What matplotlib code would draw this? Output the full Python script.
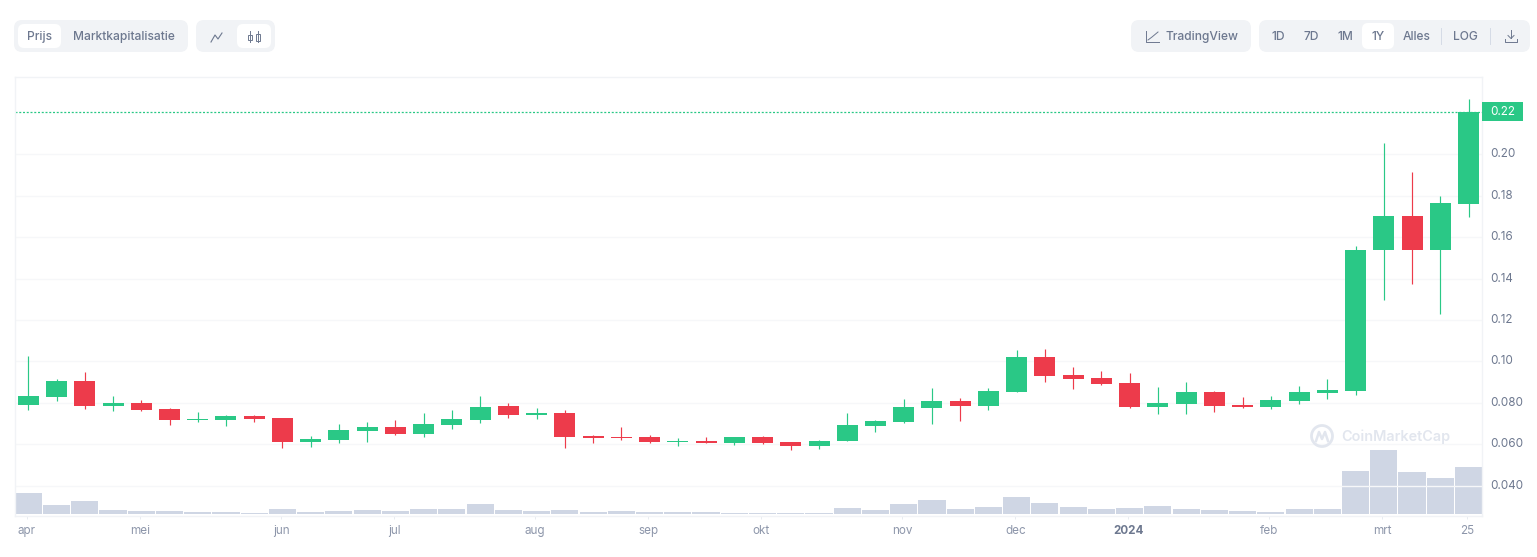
import numpy as np
import matplotlib
matplotlib.use('Agg')
import matplotlib.pyplot as plt
from matplotlib.patches import FancyBboxPatch, Rectangle, Circle
from matplotlib.transforms import ScaledTranslation

plt.rcParams['font.family'] = ['Inter', 'DejaVu Sans']

W, H = 1537, 557

# weekly candles
opens = [0.0789, 0.0828, 0.0905, 0.0784, 0.0799, 0.0770, 0.0717, 0.0717, 0.0736, 0.0726,
         0.0610, 0.0620, 0.0664, 0.0683, 0.0649, 0.0692, 0.0717, 0.0784, 0.0741, 0.0750,
         0.0639, 0.0635, 0.0635, 0.0610, 0.0615, 0.0606, 0.0635, 0.0610, 0.0591, 0.0615,
         0.0688, 0.0707, 0.0775, 0.0808, 0.0784, 0.0852, 0.1021, 0.0934, 0.0920, 0.0895,
         0.0779, 0.0794, 0.0852, 0.0789, 0.0779, 0.0808, 0.0847, 0.0857, 0.1538, 0.1702,
         0.1538, 0.1760]
closes = [0.0833, 0.0905, 0.0784, 0.0799, 0.0765, 0.0717, 0.0721, 0.0736, 0.0721, 0.0610,
          0.0625, 0.0668, 0.0683, 0.0649, 0.0697, 0.0721, 0.0779, 0.0741, 0.0750, 0.0635,
          0.0630, 0.0630, 0.0610, 0.0615, 0.0606, 0.0635, 0.0606, 0.0591, 0.0615, 0.0692,
          0.0712, 0.0779, 0.0808, 0.0784, 0.0857, 0.1021, 0.0929, 0.0915, 0.0891, 0.0779,
          0.0799, 0.0852, 0.0784, 0.0779, 0.0813, 0.0852, 0.0862, 0.1538, 0.1702, 0.1538,
          0.1765, 0.2204]
highs = [0.1026, 0.0915, 0.0948, 0.0833, 0.0813, 0.0775, 0.0755, 0.0741, 0.0741, 0.0726,
         0.0639, 0.0697, 0.0707, 0.0717, 0.0750, 0.0765, 0.0833, 0.0799, 0.0775, 0.0765,
         0.0644, 0.0683, 0.0644, 0.0630, 0.0635, 0.0635, 0.0639, 0.0610, 0.0620, 0.0750,
         0.0717, 0.0818, 0.0871, 0.0823, 0.0871, 0.1055, 0.1060, 0.0973, 0.0953, 0.0944,
         0.0876, 0.0900, 0.0857, 0.0828, 0.0833, 0.0881, 0.0915, 0.1557, 0.2055, 0.1914,
         0.1799, 0.2267]
lows = [0.0765, 0.0808, 0.0770, 0.0760, 0.0760, 0.0692, 0.0707, 0.0688, 0.0707, 0.0581,
        0.0586, 0.0606, 0.0610, 0.0644, 0.0635, 0.0673, 0.0702, 0.0726, 0.0721, 0.0581,
        0.0606, 0.0620, 0.0606, 0.0591, 0.0606, 0.0596, 0.0601, 0.0572, 0.0577, 0.0615,
        0.0659, 0.0702, 0.0697, 0.0712, 0.0765, 0.0852, 0.0900, 0.0866, 0.0886, 0.0775,
        0.0746, 0.0746, 0.0755, 0.0775, 0.0770, 0.0794, 0.0818, 0.0837, 0.1296, 0.1373,
        0.1229, 0.1697]
volumes = [21, 9, 13, 4, 3, 3, 2, 2, 1, 5,
           2, 3, 4, 3, 5, 5, 10, 4, 3, 4,
           2, 3, 2, 2, 2, 1, 1, 1, 1, 6,
           4, 10, 14, 5, 7, 17, 11, 7, 5, 6,
           8, 5, 4, 3, 2, 5, 5, 43, 64, 42,
           36, 47]

x_labels = ['apr', 'mei', 'jun', 'jul', 'aug', 'sep', 'okt', 'nov', 'dec', '2024', 'feb', 'mrt', '25']
x_label_weeks = [0, 4, 9, 13, 18, 22, 26, 31, 35, 39, 44, 48, 51]
y_ticks = [0.04, 0.06, 0.08, 0.10, 0.12, 0.14, 0.16, 0.18, 0.20]
y_tick_labels = ['0.040', '0.060', '0.080', '0.10', '0.12', '0.14', '0.16', '0.18', '0.20']
last_price = 0.2204

GREEN = '#2ac886'
RED = '#ed3b4b'
VOL = '#cfd6e4'
GRID = '#f6f7f9'
FRAME = '#f1f3f6'
TXT = '#6d788f'
AXTXT = '#8d96aa'
MARK = '#e2e6ee'

fig = plt.figure(figsize=(W / 100, H / 100), dpi=100, facecolor='white')

# chart frame in pixels
left, right, top, bottom = 14.5, 1481.5, 76.5, 515.5
rect = [left / W, 1 - bottom / H, (right - left) / W, (bottom - top) / H]

ax = fig.add_axes(rect, zorder=2)
ax.patch.set_alpha(0)
ax.set_xlim(-0.489, 51.46)
ax.set_ylim(0.02551, 0.2376)

vol_ax = fig.add_axes(rect, zorder=1)
vol_ax.set_xlim(ax.get_xlim())
vol_ax.set_ylim(-1.5, 437.5)
vol_ax.axis('off')

weeks = np.arange(len(opens))
vol_ax.bar(weeks, volumes, width=0.96, color=VOL, linewidth=0)

colors = [GREEN if c >= o else RED for o, c in zip(opens, closes)]
ax.vlines(weeks, lows, highs, colors=colors, linewidth=0.85, zorder=3)
ax.bar(weeks, np.abs(np.array(closes) - np.array(opens)), bottom=np.minimum(opens, closes),
       width=0.744, color=colors, linewidth=0, zorder=4)

ax.axhline(last_price, color=GREEN, linewidth=0.9, linestyle=(0, (1.6, 1.4)), zorder=2)

ax.yaxis.tick_right()
ax.set_yticks(y_ticks)
ax.set_yticklabels(y_tick_labels, fontsize=8.4, color=TXT)
ax.tick_params(axis='y', length=0, pad=6.5)
shift = ScaledTranslation(0, 1.5 / 100, fig.dpi_scale_trans)
for lbl in ax.get_yticklabels():
    lbl.set_transform(lbl.get_transform() + shift)
ax.set_xticks(np.array(x_label_weeks) - 0.05)
ax.set_xticklabels(x_labels, fontsize=8.4, color=AXTXT)
ax.get_xticklabels()[9].set_fontweight('bold')
ax.get_xticklabels()[9].set_color(TXT)
ax.tick_params(axis='x', length=2.5, width=0.7, color='#e8ebf0', pad=4.5)
ax.grid(axis='y', color=GRID, linewidth=1)
ax.set_axisbelow(True)
for s in ax.spines.values():
    s.set_color(FRAME)
    s.set_linewidth(1)

# overlay for the toolbar and price tag, in pixels
ui = fig.add_axes([0, 0, 1, 1], zorder=3)
ui.set_xlim(0, W)
ui.set_ylim(H, 0)
ui.axis('off')
ui.patch.set_alpha(0)


def pill(x0, x1, y0, y1, color, r=8):
    ui.add_patch(FancyBboxPatch((x0 + r, y0 + r), x1 - x0 - 2 * r, y1 - y0 - 2 * r,
                                boxstyle='round,pad=%g,rounding_size=%g' % (r, r),
                                fc=color, ec='none'))


def label(x, s, ha='center', size=8.65):
    ui.text(x, 37, s, ha=ha, va='center', fontsize=size, color=TXT, fontweight='medium')


pill(14, 188, 20, 52, FRAME)
pill(18, 61, 24, 48, 'white', 6)
label(39.5, 'Prijs')
label(124, 'Marktkapitalisatie')

pill(196, 275, 20, 52, FRAME)
pill(237, 271, 24, 48, 'white', 6)
ui.plot([211, 215, 218, 222], [42, 35, 39, 33], color=TXT, lw=0.8)
ui.plot([249.5, 249.5], [31, 42], color=TXT, lw=0.7)
ui.plot([258, 258], [31, 42], color=TXT, lw=0.7)
ui.add_patch(Rectangle((248, 35), 3.5, 5, fc='white', ec=TXT, lw=0.7))
ui.add_patch(Rectangle((256, 33.5), 4, 7, fc='white', ec=TXT, lw=0.7))

pill(1131, 1251, 20, 52, FRAME)
ui.plot([1146, 1146, 1159], [31, 42, 42], color=TXT, lw=0.7)
ui.plot([1148, 1152, 1158], [40, 37, 32], color=TXT, lw=0.7)
label(1166, 'TradingView', ha='left')

pill(1259, 1530, 20, 52, FRAME)
pill(1362, 1394, 23, 49, 'white', 6)
for x, s in zip([1278, 1311, 1345, 1378, 1417, 1465], ['1D', '7D', '1M', '1Y', 'Alles', 'LOG']):
    label(x, s)
for x in [1441, 1490]:
    ui.plot([x, x], [28, 44], color='#d5dbe6', lw=0.7)
ui.plot([1511, 1511], [30, 38], color=TXT, lw=0.7)
ui.plot([1508, 1511, 1514], [35.5, 38.5, 35.5], color=TXT, lw=0.7)
ui.plot([1505, 1505, 1517, 1517], [39, 42, 42, 39], color=TXT, lw=0.7)

# last price tag
ui.add_patch(Rectangle((1482, 102), 41, 19, fc=GREEN, ec='none'))
ui.text(1502.5, 112, '0.22', ha='center', va='center', fontsize=8.4, color='white')

# watermark
ui.add_patch(Circle((1322, 436), 10.5, fc='none', ec=MARK, lw=2))
ui.plot([1316, 1319, 1322, 1325, 1328], [441, 432, 439, 432, 441], color=MARK, lw=1.8)
ui.text(1341, 437, 'CoinMarketCap', ha='left', va='center', fontsize=10.4, color=MARK, fontweight='semibold')

fig.savefig('out.png', dpi=100)
